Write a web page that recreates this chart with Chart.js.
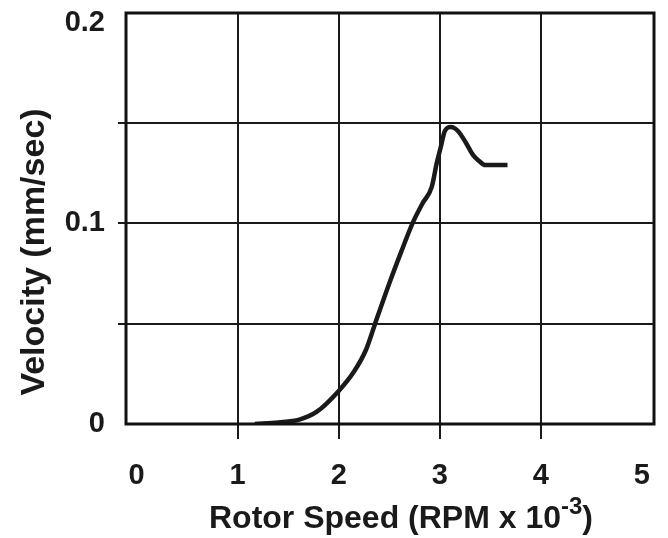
<!DOCTYPE html>
<html>
<head>
<meta charset="utf-8">
<script src="https://cdn.jsdelivr.net/npm/chart.js@4/dist/chart.umd.min.js"></script>
<style>
    html, body { margin: 0; padding: 0; background: #fff; }
    #wrap { width: 668px; height: 538px; }
</style>
</head>
<body>
<div id="wrap"><canvas id="velocityChart"></canvas></div>
<script>
// rotor speed in RPM x 10^-3, velocity in mm/sec
const rotorSpeed = [1.17, 1.4, 1.61, 1.78, 2.0, 2.15, 2.27, 2.36, 2.5, 2.62, 2.73, 2.83, 2.92, 2.97, 3.01, 3.05, 3.11, 3.18, 3.26, 3.33, 3.39, 3.45, 3.52, 3.67];
const velocity = [0, 0.0008, 0.0022, 0.006, 0.0165, 0.026, 0.037, 0.05, 0.07, 0.086, 0.1, 0.11, 0.118, 0.13, 0.138, 0.146, 0.148, 0.146, 0.14, 0.134, 0.131, 0.129, 0.129, 0.129];

const xTickValues = [0, 1, 2, 3, 4, 5];
const yTickValues = [0, 0.05, 0.1, 0.15, 0.2];
const yTickLabels = ['0', '', '0.1', '', '0.2'];

const xTitle = 'Rotor Speed (RPM x 10';
const xTitleSup = '-3';
const yTitle = 'Velocity (mm/sec)';

const tickFont = { family: 'Liberation Sans', size: 29, weight: 'bold' };

// frame around the plot plus both axis titles
const framePlugin = {
    id: 'frame',
    afterDraw(chart) {
        const ctx = chart.ctx;
        const area = chart.chartArea;
        ctx.save();
        ctx.strokeStyle = '#111';
        ctx.lineWidth = 3;
        ctx.strokeRect(area.left, area.top, area.right - area.left, area.bottom - area.top);

        ctx.fillStyle = '#1a1a1a';
        ctx.textBaseline = 'alphabetic';

        // x title with superscript
        ctx.font = 'bold 32px "Liberation Sans"';
        const mainW = ctx.measureText(xTitle).width;
        const closeW = ctx.measureText(')').width;
        ctx.font = 'bold 24px "Liberation Sans"';
        const supW = ctx.measureText(xTitleSup).width;
        const totalW = mainW + supW + closeW;
        let x = 401 - totalW / 2;
        const base = 528;
        ctx.font = 'bold 32px "Liberation Sans"';
        ctx.textAlign = 'left';
        ctx.fillText(xTitle, x, base);
        x += mainW;
        ctx.font = 'bold 24px "Liberation Sans"';
        ctx.fillText(xTitleSup, x, base - 14);
        x += supW;
        ctx.font = 'bold 32px "Liberation Sans"';
        ctx.fillText(')', x, base);

        // y title
        ctx.translate(44, 252);
        ctx.rotate(-Math.PI / 2);
        ctx.textAlign = 'center';
        ctx.font = 'bold 34px "Liberation Sans"';
        ctx.fillText(yTitle, 0, 0);
        ctx.restore();
    }
};

const noPadding = scale => {
    scale.paddingTop = 0;
    scale.paddingBottom = 0;
    scale.paddingLeft = 0;
    scale.paddingRight = 0;
};

const chartElement = document.getElementById('velocityChart');

new Chart(chartElement, {
    type: 'line',
    data: {
        datasets: [{
            data: rotorSpeed.map((s, i) => ({ x: s, y: velocity[i] })),
            borderColor: '#1a1a1a',
            borderWidth: 4.5,
            pointRadius: 0,
            fill: false,
            cubicInterpolationMode: 'monotone'
        }]
    },
    options: {
        responsive: true,
        maintainAspectRatio: false,
        animation: false,
        layout: { padding: { top: 13, right: 14, left: 0, bottom: 0 } },
        plugins: {
            legend: { display: false },
            tooltip: { enabled: false }
        },
        scales: {
            x: {
                type: 'linear',
                min: -0.105,
                max: 5.12,
                afterBuildTicks: scale => {
                    scale.ticks = xTickValues.map(v => ({ value: v }));
                },
                afterFit: scale => {
                    scale.height = 114;
                    noPadding(scale);
                },
                border: { display: false },
                grid: {
                    color: c => (c.tick && (c.tick.value === 0 || c.tick.value === 5)) ? 'rgba(0,0,0,0)' : '#1a1a1a',
                    lineWidth: 2,
                    tickLength: 15
                },
                ticks: {
                    color: '#1a1a1a',
                    font: tickFont,
                    padding: 20,
                    maxRotation: 0,
                    callback: v => String(v)
                }
            },
            y: {
                type: 'linear',
                min: 0,
                max: 0.2048,
                afterBuildTicks: scale => {
                    scale.ticks = yTickValues.map(v => ({ value: v }));
                },
                afterFit: scale => {
                    scale.width = 126;
                    noPadding(scale);
                },
                border: { display: false },
                grid: {
                    color: c => (c.tick && (c.tick.value === 0 || c.tick.value === 0.2)) ? 'rgba(0,0,0,0)' : '#1a1a1a',
                    lineWidth: 2,
                    tickLength: 8
                },
                ticks: {
                    color: '#1a1a1a',
                    font: tickFont,
                    padding: 13,
                    callback: (v, i) => yTickLabels[i]
                }
            }
        }
    },
    plugins: [framePlugin]
});
</script>
</body>
</html>
